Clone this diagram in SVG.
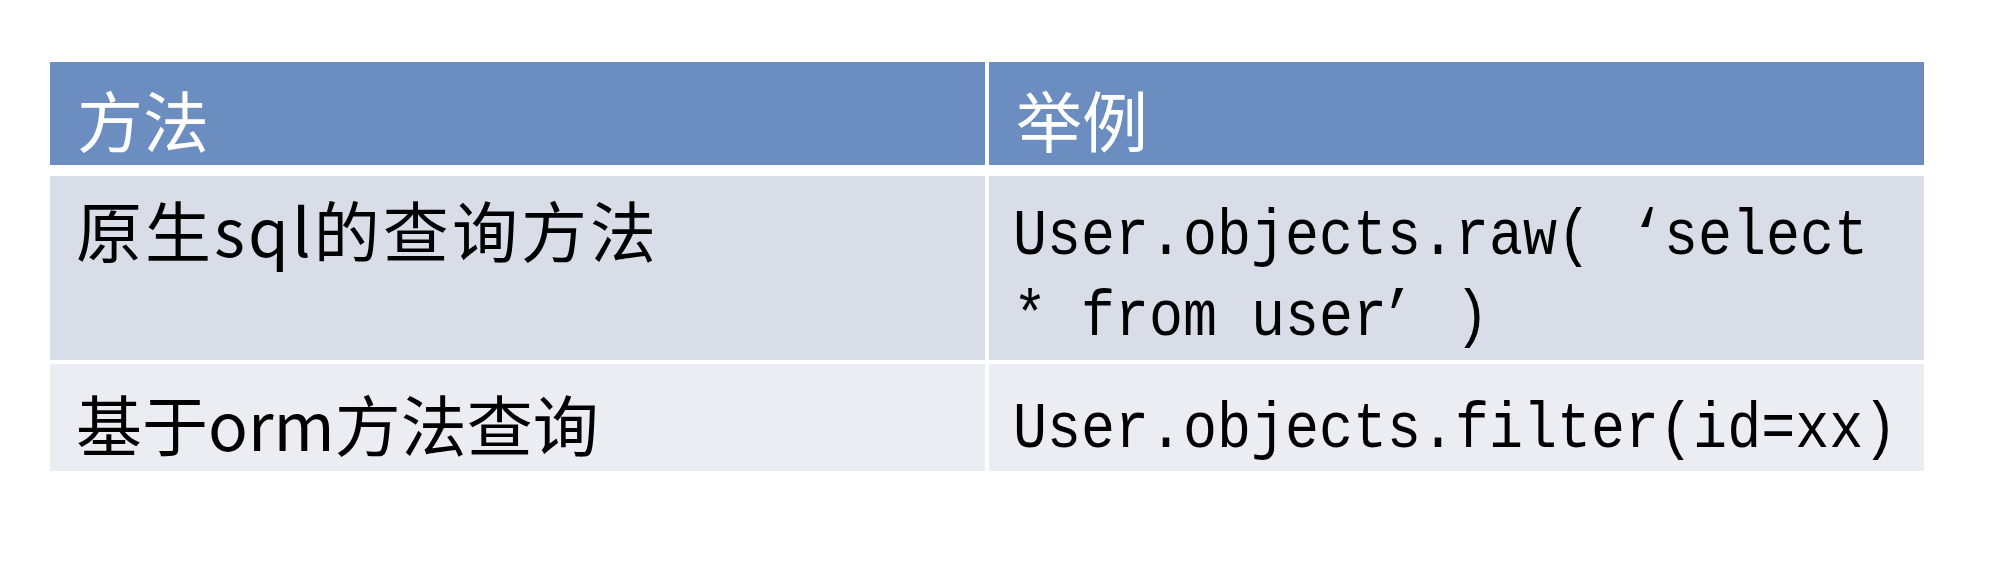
<svg xmlns="http://www.w3.org/2000/svg" width="1994" height="564" viewBox="0 0 1994 564">
<style>
.hd{fill:#6C8DBF}
.r1{fill:#D9DDE8}
.r2{fill:#ECEDF3}
.cjk{font-family:"Noto Sans CJK SC","Noto Sans",sans-serif;font-size:66px;fill:#000}
.hdt{font-family:"Noto Sans CJK SC","Noto Sans",sans-serif;font-size:66px;fill:#FFFFFF}
.mono{font-family:"Liberation Mono","DejaVu Sans Mono",monospace;font-size:65px;fill:#000}
</style>
<rect x="0" y="0" width="1994" height="564" fill="#FFFFFF"/>
<g id="header-method">
<rect class="hd" x="50" y="62" width="935" height="103"/>
<text class="hdt" x="77" y="147">方法</text>
</g>
<g id="header-example">
<rect class="hd" x="989" y="62" width="935" height="103"/>
<text class="hdt" x="1016" y="147">举例</text>
</g>
<g id="row1-method">
<rect class="r1" x="50" y="176" width="935" height="184"/>
<text class="cjk" x="76" y="257" textLength="580" lengthAdjust="spacing">原生sql的查询方法</text>
</g>
<g id="row1-example">
<rect class="r1" x="989" y="176" width="935" height="184"/>
<text class="mono" transform="translate(1013,254) scale(0.872,1)"><tspan x="0" y="0">User.objects.raw(</tspan><tspan dx="44.6">‘select</tspan><tspan x="0" y="81">* from user</tspan><tspan dx="-7.8">’</tspan><tspan dx="46.6">)</tspan></text>
</g>
<g id="row2-method">
<rect class="r2" x="50" y="364" width="935" height="107"/>
<text class="cjk" x="76" y="451">基于orm方法查询</text>
</g>
<g id="row2-example">
<rect class="r2" x="989" y="364" width="935" height="107"/>
<text class="mono" transform="translate(1013,447) scale(0.872,1)">User.objects.filter(id=xx)</text>
</g>
<g id="connectors"></g>
</svg>
